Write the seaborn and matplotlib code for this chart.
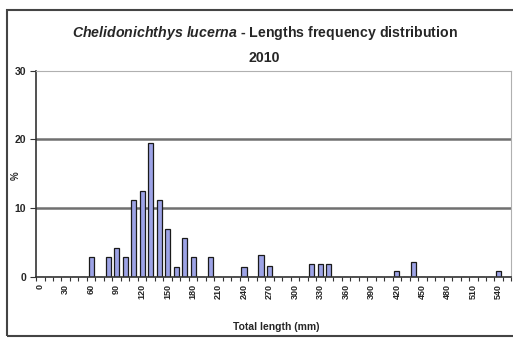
import numpy as np
import pandas as pd
import matplotlib
matplotlib.use("Agg")
import matplotlib.pyplot as plt
import seaborn as sns
from matplotlib.patches import Rectangle

# length classes (mm), 10 mm wide
length_classes = list(range(0, 560, 10))

# classes that have fish, and their share (%)
found_lengths = [60, 80, 90, 100, 110, 120, 130, 140, 150, 160, 170, 180,
                 200, 240, 260, 270, 320, 330, 340, 420, 440, 540]
found_pct = [2.8, 2.8, 4.2, 2.8, 11.1, 12.5, 19.4, 11.1, 6.9, 1.4, 5.6, 2.8,
             2.8, 1.4, 3.2, 1.5, 1.8, 1.8, 1.8, 0.8, 2.1, 0.8]

tick_labels = [str(v) for v in length_classes if v % 30 == 0]

pct_by_len = dict(zip(found_lengths, found_pct))
df = pd.DataFrame({
    "length": [str(v) for v in length_classes],
    "pct": [pct_by_len.get(v, 0.0) for v in length_classes],
})

sns.set_style("white")
plt.rcParams["font.family"] = ["Liberation Sans", "DejaVu Sans"]
plt.rcParams["mathtext.fontset"] = "custom"
plt.rcParams["mathtext.it"] = "Liberation Sans:italic:bold"
plt.rcParams["mathtext.rm"] = "Liberation Sans:bold"

fig = plt.figure(figsize=(5.13, 3.39), dpi=100)
ax = fig.add_axes([0.0702, 0.1838, 0.997 - 0.0702, 0.7914 - 0.1838])

sns.barplot(data=df, x="length", y="pct", order=df["length"], color="#9da3e6",
            edgecolor="#1a1a1a", linewidth=0.9, width=0.6, saturation=1, ax=ax)

ax.set_xlim(-0.5, len(length_classes) - 0.5)
ax.set_ylim(0, 30)

# grid lines like excel
for g in [10, 20]:
    ax.axhline(g, color="#707070", lw=1.8, zorder=0)

ax.set_xticks([i for i, v in enumerate(length_classes) if v % 30 == 0])
ax.set_xticklabels(tick_labels, rotation=90, fontsize=6.5, fontweight="bold")
ax.set_xticks(np.arange(-0.5, len(length_classes), 1), minor=True)
ax.tick_params(axis="x", which="major", length=0, pad=5)
ax.tick_params(axis="x", which="minor", length=3, width=0.8, color="#333333",
               direction="out", bottom=True)
ax.set_yticks([0, 10, 20, 30])
ax.set_yticklabels(["0", "10", "20", "30"], fontsize=7.5, fontweight="bold")
ax.tick_params(axis="y", length=4, width=0.8, color="#333333", left=True, pad=3)

ax.set_xlabel("Total length (mm)", fontsize=7.5, fontweight="bold")
ax.xaxis.set_label_coords(0.505, -0.222)
ax.set_ylabel("%", fontsize=7, fontweight="bold")
ax.yaxis.set_label_coords(-0.032, 0.49)

for side in ["left", "bottom"]:
    ax.spines[side].set_color("#333333")
    ax.spines[side].set_linewidth(1.2)
for side in ["top", "right"]:
    ax.spines[side].set_color("#b0b0b0")
    ax.spines[side].set_linewidth(0.8)

fig.text(0.516, 0.902,
         r"$\it{Chelidonichthys\ lucerna}$ - Lengths frequency distribution",
         ha="center", va="center", fontsize=10.2, fontweight="bold")
fig.text(0.516, 0.828, "2010", ha="center", va="center", fontsize=10.2,
         fontweight="bold")

# outer chart border
fig.patches.append(Rectangle((7 / 513, 1 - 336 / 339), 1.0, (336 - 10) / 339,
                             transform=fig.transFigure, fill=False,
                             edgecolor="#444444", lw=1.5))

fig.savefig("out.png", dpi=100)
